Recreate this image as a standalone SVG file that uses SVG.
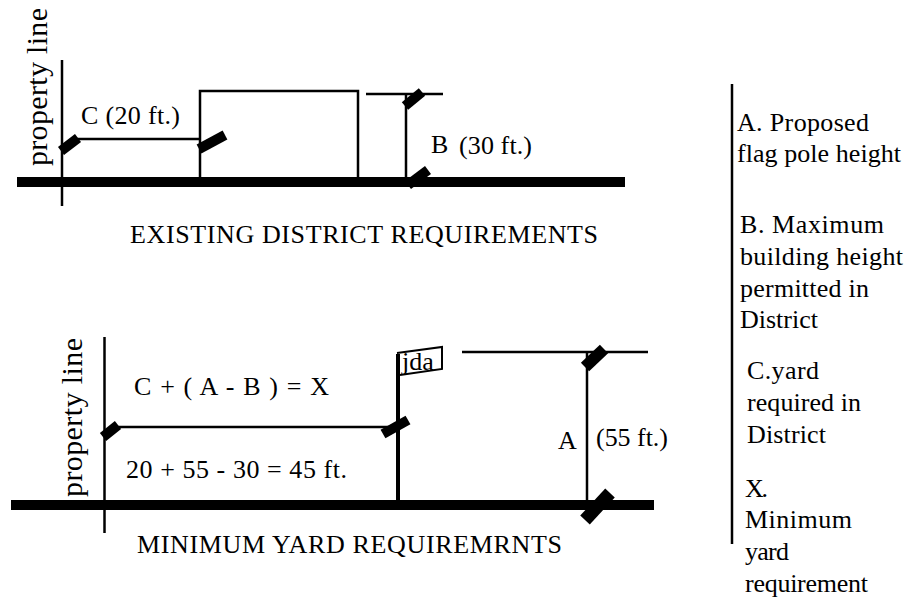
<svg xmlns="http://www.w3.org/2000/svg" width="911" height="599" viewBox="0 0 911 599">
<style>
text{font-family:"Liberation Serif","Times New Roman",serif;font-size:26px;fill:#000}
.l{fill:none;stroke:#000;stroke-width:2.5}
.t{fill:none;stroke:#000;stroke-width:10}
.g{fill:#000}
</style>
<rect width="911" height="599" fill="#fff"/>
<g id="existing-district">
<rect class="g" x="17" y="177" width="608" height="10"/>
<path class="l" d="M62 60V206"/>
<path class="l" d="M200 177V91H358V177"/>
<path class="l" d="M72 139H200"/>
<path class="t" d="M61 151L78 138"/>
<path class="t" d="M199 149L225 135"/>
<path class="l" d="M366 94H443M406 94V182"/>
<path class="t" d="M405 106L422 92"/>
<path class="t" d="M408 185L428 170"/>
<text transform="translate(47 166) rotate(-90)" style="font-size:30px" textLength="158">property line</text>
<text x="81" y="124" textLength="99">C (20 ft.)</text>
<text x="431" y="153">B</text>
<text x="459" y="154" textLength="73">(30 ft.)</text>
<text x="130" y="243" textLength="468">EXISTING DISTRICT REQUIREMENTS</text>
</g>
<g id="minimum-yard">
<rect class="g" x="11" y="500" width="643" height="10"/>
<path class="l" d="M104.500 337V533"/>
<path class="l" d="M112 427H392"/>
<path class="t" d="M103 437L118 425"/>
<path class="t" d="M383 434L408 420"/>
<path d="M398 354V500" fill="none" stroke="#000" stroke-width="4"/>
<path d="M397 353L442 347V369L400 375" fill="none" stroke="#000" stroke-width="2"/>
<text x="402" y="370">jda</text>
<path class="l" d="M462 352H648M587 352V500"/>
<path d="M585 367L604 349" fill="none" stroke="#000" stroke-width="12"/>
<path d="M585 520L610 493" fill="none" stroke="#000" stroke-width="13"/>
<text transform="translate(82 497) rotate(-90)" style="font-size:30px" textLength="159">property line</text>
<text x="134" y="395" textLength="195">C + ( A - B ) = X</text>
<text x="126" y="478" textLength="221">20 + 55 - 30 = 45 ft.</text>
<text x="558" y="449">A</text>
<text x="596" y="446" textLength="72">(55 ft.)</text>
<text x="137" y="553" textLength="425">MINIMUM YARD REQUIREMRNTS</text>
</g>
<g id="legend">
<path class="l" d="M732 84V544"/>
<text x="737" y="131" textLength="132">A. Proposed</text>
<text x="737" y="162" textLength="164">flag pole height</text>
<text x="740" y="233" textLength="144">B. Maximum</text>
<text x="740" y="265" textLength="163">building height</text>
<text x="740" y="297" textLength="129">permitted in</text>
<text x="740" y="328" textLength="78">District</text>
<text x="747" y="379" textLength="72">C.yard</text>
<text x="747" y="411" textLength="114">required in</text>
<text x="747" y="443" textLength="79">District</text>
<text x="745" y="497" textLength="23">X.</text>
<text x="745" y="528" textLength="107">Minimum</text>
<text x="745" y="560" textLength="44">yard</text>
<text x="745" y="592" textLength="123">requirement</text>
</g>
</svg>
